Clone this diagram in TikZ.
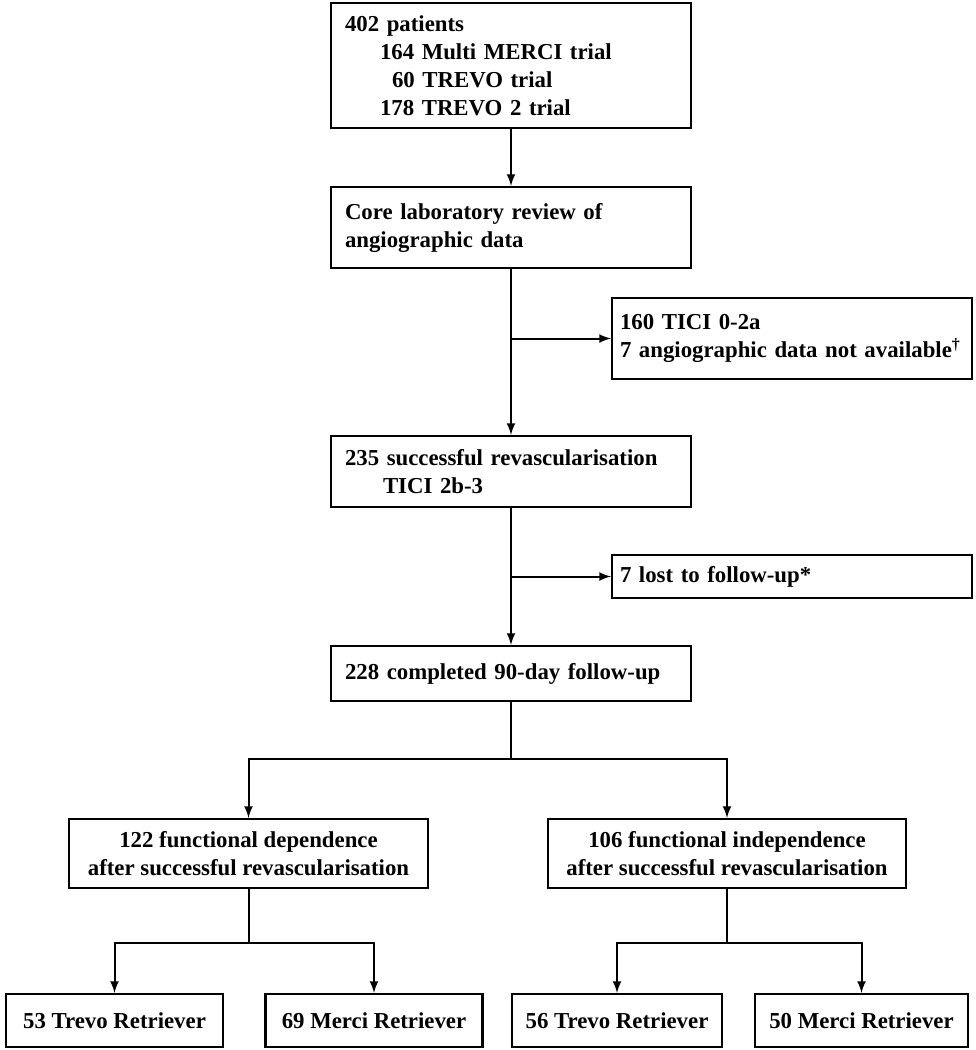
\documentclass[tikz,border=0pt]{standalone}
\usepackage{fontspec}
\setmainfont{Liberation Serif}
\usetikzlibrary{arrows}

\tikzset{
  box/.style={draw, rectangle, line width=1.1pt, inner xsep=7pt, inner ysep=0pt,
    font=\fontsize{11.4}{14}\selectfont\bfseries},
  lbox/.style={box, align=left, text width=#1},
  cbox/.style={box, align=center},
  link/.style={line width=1pt},
}

\begin{document}
\begin{tikzpicture}[x=0.5pt, y=-0.5pt, >=latex]
      \useasboundingbox (0,0) rectangle (975,1050);

      % Main column
      \node[lbox=166pt, minimum height=62.5pt] (pts) at (511,65.5)
        {402 patients\\
         \hspace*{17.5pt}164 Multi MERCI trial\\
         \hspace*{23.5pt}60 TREVO trial\\
         \hspace*{17.5pt}178 TREVO 2 trial};
      \node[lbox=166pt, minimum height=40.5pt] (core) at (511,227.5)
        {Core laboratory review of\\ angiographic data};
      \node[lbox=166pt, minimum height=35.5pt] (succ) at (511,471.5)
        {235 successful revascularisation\\ \hspace*{19pt}TICI 2b-3};
      \node[lbox=166pt, minimum height=27.5pt] (comp) at (511,673.5)
        {228 completed 90-day follow-up};

      % Exclusions on the right
      \node[lbox=172pt, inner xsep=4pt, minimum height=40.5pt] (excl) at (792,338.5)
        {160 TICI 0-2a\\ 7 angiographic data not available\textsuperscript{\textdagger}};
      \node[lbox=172pt, inner xsep=4pt, minimum height=21.5pt] (lost) at (792,576.5)
        {7 lost to follow-up*};

      % Outcome groups
      \node[cbox, minimum width=179.5pt, minimum height=34.5pt] (dep) at (248.5,853.5)
        {122 functional dependence\\ after successful revascularisation};
      \node[cbox, minimum width=179pt, minimum height=34.5pt] (ind) at (727,853.5)
        {106 functional independence\\ after successful revascularisation};

      % Devices
      \node[cbox, minimum width=108.5pt, minimum height=26.5pt] (tdep) at (114.5,1020.5) {53 Trevo Retriever};
      \node[cbox, minimum width=108.5pt, minimum height=26.5pt] (mdep) at (374,1020.5) {69 Merci Retriever};
      \node[cbox, minimum width=99pt, minimum height=26.5pt] (tind) at (617,1020.5) {56 Trevo Retriever};
      \node[cbox, minimum width=104.5pt, minimum height=26.5pt] (mind) at (861.5,1020.5) {50 Merci Retriever};

      % Connectors down the main column
      \draw[link,->] (pts) -- (core);
      \draw[link,->] (core) -- (succ);
      \draw[link,->] (core.south |- excl.west) -- (excl.west);
      \draw[link,->] (succ) -- (comp);
      \draw[link,->] (succ.south |- lost.west) -- (lost.west);

      % Split by outcome
      \path (comp.south) ++(0,57) coordinate (s1);
      \draw[link] (comp) -- (s1);
      \draw[link,->] (s1) -| (dep.north);
      \draw[link,->] (s1) -| (ind.north);

      % Split by device
      \path (dep.south) ++(0,54) coordinate (s2);
      \path (ind.south) ++(0,54) coordinate (s3);
      \draw[link] (dep) -- (s2);
      \draw[link,->] (s2) -| (tdep.north);
      \draw[link,->] (s2) -| (mdep.north);
      \draw[link] (ind) -- (s3);
      \draw[link,->] (s3) -| (tind.north);
      \draw[link,->] (s3) -| (mind.north);
    \end{tikzpicture}
\end{document}
